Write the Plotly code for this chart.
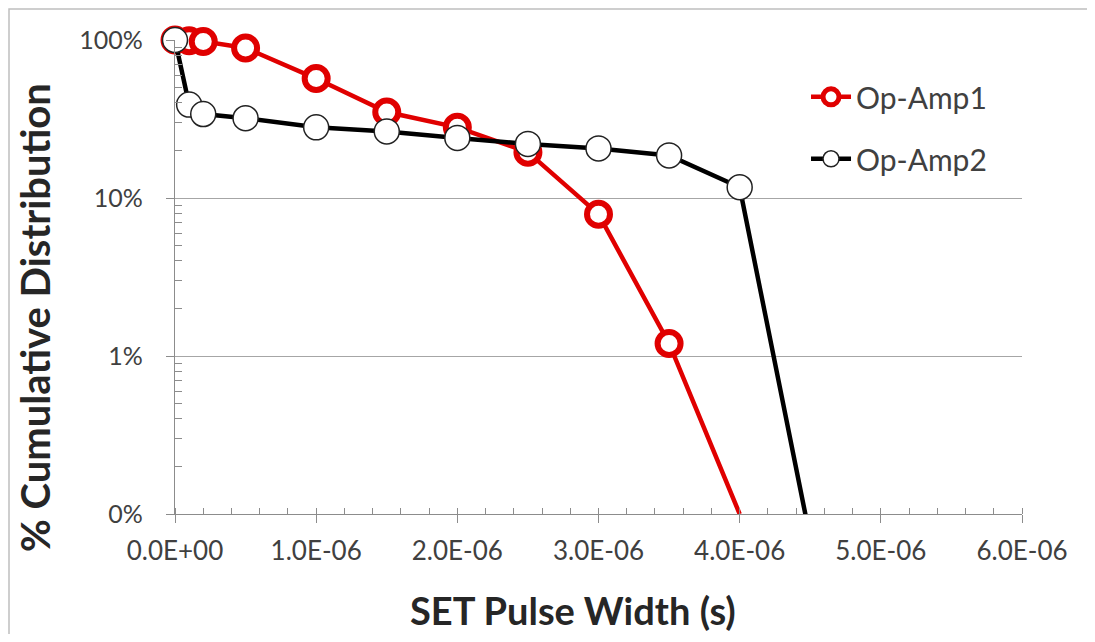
import plotly.graph_objects as go

# ---- data ----
pulse_width_s = [0, 1e-7, 2e-7, 5e-7, 1e-6, 1.5e-6, 2e-6, 2.5e-6, 3e-6, 3.5e-6, 4e-6]
opamp1_cum = [1.00, 0.99, 0.98, 0.89, 0.57, 0.35, 0.28, 0.195, 0.079, 0.012, 0.001]

pulse_width2_s = [0, 1e-7, 2e-7, 5e-7, 1e-6, 1.5e-6, 2e-6, 2.5e-6, 3e-6, 3.5e-6, 4e-6, 4.5e-6]
opamp2_cum = [1.00, 0.39, 0.34, 0.32, 0.28, 0.264, 0.24, 0.22, 0.206, 0.186, 0.117, 0.0007]

x_tick_vals = [0, 1e-6, 2e-6, 3e-6, 4e-6, 5e-6, 6e-6]
x_tick_text = ["0.0E+00", "1.0E-06", "2.0E-06", "3.0E-06", "4.0E-06", "5.0E-06", "6.0E-06"]
y_tick_vals = [0.001, 0.01, 0.1, 1]
y_tick_text = ["0%", "1%", "10%", "100%"]

x_title = "SET Pulse Width (s)"
y_title = "% Cumulative Distribution"

FONT = "Lato"
RED = "#E00000"
AX = "#8C8C8C"

# log minor tick positions (2..9 in each decade)
y_minor = [k * 10.0 ** d for d in (-3, -2, -1) for k in range(2, 10)]

fig = go.Figure()

red_sizes = [23] * (len(opamp1_cum) - 1) + [0]
blk_sizes = [25] * (len(opamp2_cum) - 1) + [0]

fig.add_trace(go.Scatter(
    x=pulse_width_s, y=opamp1_cum, name="Op-Amp1", mode="lines+markers",
    line=dict(color=RED, width=4.5),
    marker=dict(symbol="circle", size=red_sizes, color="white", opacity=1,
                line=dict(color=RED, width=6)),
    cliponaxis=False, legendgroup="a",
))
fig.add_trace(go.Scatter(
    x=pulse_width2_s, y=opamp2_cum, name="Op-Amp2", mode="lines+markers",
    line=dict(color="black", width=4.5),
    marker=dict(symbol="circle", size=blk_sizes, color="white", opacity=1,
                line=dict(color="#222222", width=1.5)),
    cliponaxis=False, legendgroup="b",
))

W, H = 1079, 626
fig.update_layout(
    width=W, height=H,
    margin=dict(l=167, r=65, t=32, b=120),
    paper_bgcolor="white", plot_bgcolor="white",
    font=dict(family=FONT, color="#404040"),
    showlegend=True,
    legend=dict(x=0.745, y=0.935, xanchor="left", yanchor="top",
                font=dict(family=FONT, size=30, color="#404040"),
                bgcolor="rgba(0,0,0,0)", tracegroupgap=20, itemwidth=40),
    shapes=[dict(type="rect", xref="paper", yref="paper",
                 x0=-166 / 847, x1=1.3, y0=-0.5, y1=1 + 31 / 474,
                 line=dict(color="#BFBFBF", width=1.5), layer="below")],
    annotations=[
        dict(text="<b>" + x_title + "</b>", xref="paper", yref="paper",
             x=0.470, y=-0.2025, xanchor="center", yanchor="middle", showarrow=False,
             font=dict(family=FONT, size=38, color="#262626")),
        dict(text="<b>" + y_title + "</b>", xref="paper", yref="paper",
             x=-0.1653, y=0.4156, xanchor="center", yanchor="middle", showarrow=False,
             textangle=-90, font=dict(family=FONT, size=40, color="#262626")),
    ],
)

fig.update_xaxes(
    range=[0, 6e-6], tickvals=x_tick_vals, ticktext=x_tick_text,
    showgrid=False, zeroline=False, automargin=False,
    showline=True, linecolor=AX, linewidth=1.3,
    ticks="outside", ticklen=8, tickcolor=AX, tickwidth=1.3,
    ticklabelstandoff=6,
    minor=dict(dtick=2e-7, ticks="inside", ticklen=6, tickcolor=AX, tickwidth=1.2, showgrid=False),
    tickfont=dict(family=FONT, size=26, color="#404040"),
)
fig.update_yaxes(
    type="log", range=[-3, 0], tickvals=y_tick_vals, ticktext=y_tick_text,
    showgrid=True, gridcolor="#A6A6A6", gridwidth=1.2, zeroline=False, automargin=False,
    showline=True, linecolor=AX, linewidth=1.3,
    ticks="outside", ticklen=8, tickcolor=AX, tickwidth=1.3,
    ticklabelstandoff=18,
    minor=dict(tickmode="array", tickvals=y_minor, ticks="inside", ticklen=7,
               tickcolor=AX, tickwidth=1.2, showgrid=False),
    tickfont=dict(family=FONT, size=25, color="#404040"),
)

fig.write_html("out.html")
